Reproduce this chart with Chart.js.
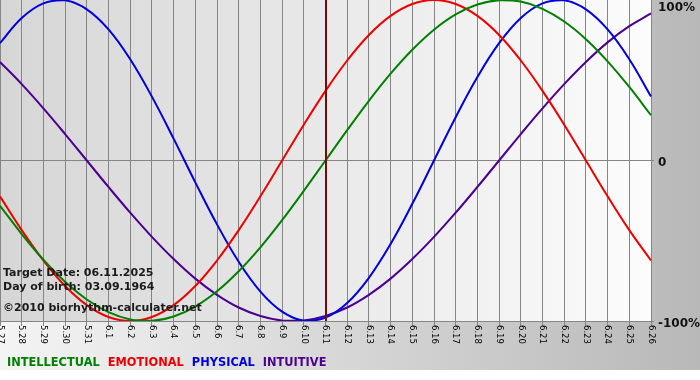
<!DOCTYPE html>
<html><head><meta charset="utf-8">
<style>html,body{margin:0;padding:0;background:#fff;}canvas{display:block;}</style>
<script src="https://cdn.jsdelivr.net/npm/chart.js@4"></script>
</head><body>
<canvas id="c" width="700" height="380" style="width:700px;height:380px"></canvas>
<script>
const days = ['5.27','5.28','5.29','5.30','5.31','6.1','6.2','6.3','6.4','6.5','6.6','6.7','6.8','6.9','6.10','6.11','6.12','6.13','6.14','6.15','6.16','6.17','6.18','6.19','6.20','6.21','6.22','6.23','6.24','6.25','6.26'];
const intellectual = [-28.2,-45.8,-61.8,-75.6,-86.6,-94.5,-99.0,-99.9,-97.2,-91.0,-81.5,-69.0,-54.1,-37.2,-18.9,0,18.9,37.2,54.1,69.0,81.5,91.0,97.2,99.9,99.0,94.5,86.6,75.6,61.8,45.8,28.2];
const emotional = [-22.3,-43.4,-62.3,-78.2,-90.1,-97.5,-100,-97.5,-90.1,-78.2,-62.3,-43.4,-22.3,0,22.3,43.4,62.3,78.2,90.1,97.5,100,97.5,90.1,78.2,62.3,43.4,22.3,0,-22.3,-43.4,-62.3];
const physical = [73.1,88.8,97.9,99.8,94.2,81.7,63.1,39.8,13.6,-13.6,-39.8,-63.1,-81.7,-94.2,-99.8,-97.9,-88.8,-73.1,-52.0,-27.0,0,27.0,52.0,73.1,88.8,97.9,99.8,94.2,81.7,63.1,39.8];
const intuitive = [61.4,47.6,32.5,16.5,0,-16.5,-32.5,-47.6,-61.4,-73.6,-83.7,-91.6,-96.9,-99.7,-99.7,-96.9,-91.6,-83.7,-73.6,-61.4,-47.6,-32.5,-16.5,0,16.5,32.5,47.6,61.4,73.6,83.7,91.6];
const yTickValues = [100, 0, -100];
const yTickLabels = ['100%', '0', '-100%'];
const targetDay = '6.11';
const infoLines = ['Target Date: 06.11.2025', 'Day of birth: 03.09.1964', '\u00a92010 biorhythm-calculater.net'];
const legendNames = ['INTELLECTUAL', 'EMOTIONAL', 'PHYSICAL', 'INTUITIVE'];
const colors = ['#008000', '#ee0000', '#0000dd', '#4b0090'];

const deco = {
  id: 'deco',
  beforeDraw(chart) {
    const ctx = chart.ctx, a = chart.chartArea;
    ctx.save();
    let g = ctx.createLinearGradient(0, 0, 700, 0);
    g.addColorStop(0, '#f4f4f4'); g.addColorStop(1, '#b8b8b8');
    ctx.fillStyle = g; ctx.fillRect(0, 0, 700, 370);
    ctx.fillStyle = '#ffffff'; ctx.fillRect(0, 370, 700, 10);
    g = ctx.createLinearGradient(a.left, 0, a.right, 0);
    g.addColorStop(0, '#d6d6d6'); g.addColorStop(1, '#fcfcfc');
    ctx.fillStyle = g; ctx.fillRect(a.left, a.top, a.right - a.left, a.bottom - a.top);
    ctx.restore();
  },
  afterDatasetsDraw(chart) {
    const ctx = chart.ctx, a = chart.chartArea, xs = chart.scales.x;
    const x = Math.round(xs.getPixelForValue(days.indexOf(targetDay)));
    ctx.save();
    ctx.strokeStyle = '#7a0a0a'; ctx.lineWidth = 2;
    ctx.beginPath(); ctx.moveTo(x, a.top); ctx.lineTo(x, a.bottom); ctx.stroke();
    ctx.restore();
  },
  afterDraw(chart) {
    const ctx = chart.ctx, a = chart.chartArea, xs = chart.scales.x, ys = chart.scales.y;
    ctx.save();
    // x labels rotated clockwise
    ctx.fillStyle = '#000';
    ctx.font = '8.5px "DejaVu Sans"';
    ctx.textAlign = 'left'; ctx.textBaseline = 'middle';
    days.forEach((d, i) => {
      const x = xs.getPixelForValue(i);
      ctx.save(); ctx.translate(x, a.bottom + 4); ctx.rotate(Math.PI / 2);
      ctx.fillText(d, 0, 0); ctx.restore();
    });
    // y labels
    ctx.font = 'bold 12px "DejaVu Sans"';
    ctx.fillStyle = '#111';
    ctx.textBaseline = 'alphabetic';
    yTickValues.forEach((v, i) => {
      let y = ys.getPixelForValue(v);
      if (i === 0) y += 11; else if (i === 1) y += 5.5; else y += 6;
      ctx.fillText(yTickLabels[i], 658, y);
    });
    // info text
    ctx.font = 'bold 11px "DejaVu Sans"';
    ctx.fillStyle = '#1a1a1a';
    const ib = [276, 290, 311];
    infoLines.forEach((t, i) => ctx.fillText(t, 3, ib[i]));
    // legend
    ctx.font = 'bold 11.4px "DejaVu Sans"';
    let lx = 7;
    legendNames.forEach((n, i) => {
      ctx.fillStyle = colors[i];
      ctx.fillText(n, lx, 366);
      lx += ctx.measureText(n).width + 8;
    });
    ctx.restore();
  }
};

const series = [intellectual, emotional, physical, intuitive];
new Chart(document.getElementById('c'), {
  type: 'line',
  data: {
    labels: days,
    datasets: series.map((s, i) => ({
      label: legendNames[i], data: s, borderColor: colors[i], borderWidth: 2,
      pointRadius: 0, tension: 0.4, fill: false
    }))
  },
  options: {
    responsive: false, animation: false, devicePixelRatio: 1,
    layout: { padding: 0 },
    plugins: { legend: { display: false }, tooltip: { enabled: false } },
    scales: {
      x: {
        type: 'category', offset: false,
        grid: { color: '#858585', lineWidth: 1, drawTicks: true, tickLength: 5, tickColor: '#858585' },
        border: { display: true, color: '#858585' },
        ticks: { display: false },
        afterFit(s) { s.height = 59; }
      },
      y: {
        position: 'right', min: -100, max: 100,
        ticks: { display: false, stepSize: 100 },
        grid: {
          color: c => c.tick && c.tick.value === 0 ? '#858585' : 'rgba(0,0,0,0)',
          tickColor: c => c.tick && c.tick.value === 100 ? 'rgba(0,0,0,0)' : '#858585',
          drawTicks: true, tickLength: 3
        },
        border: { display: true, color: '#858585' },
        afterFit(s) { s.width = 49; }
      }
    }
  },
  plugins: [deco]
});
</script>
</body></html>
